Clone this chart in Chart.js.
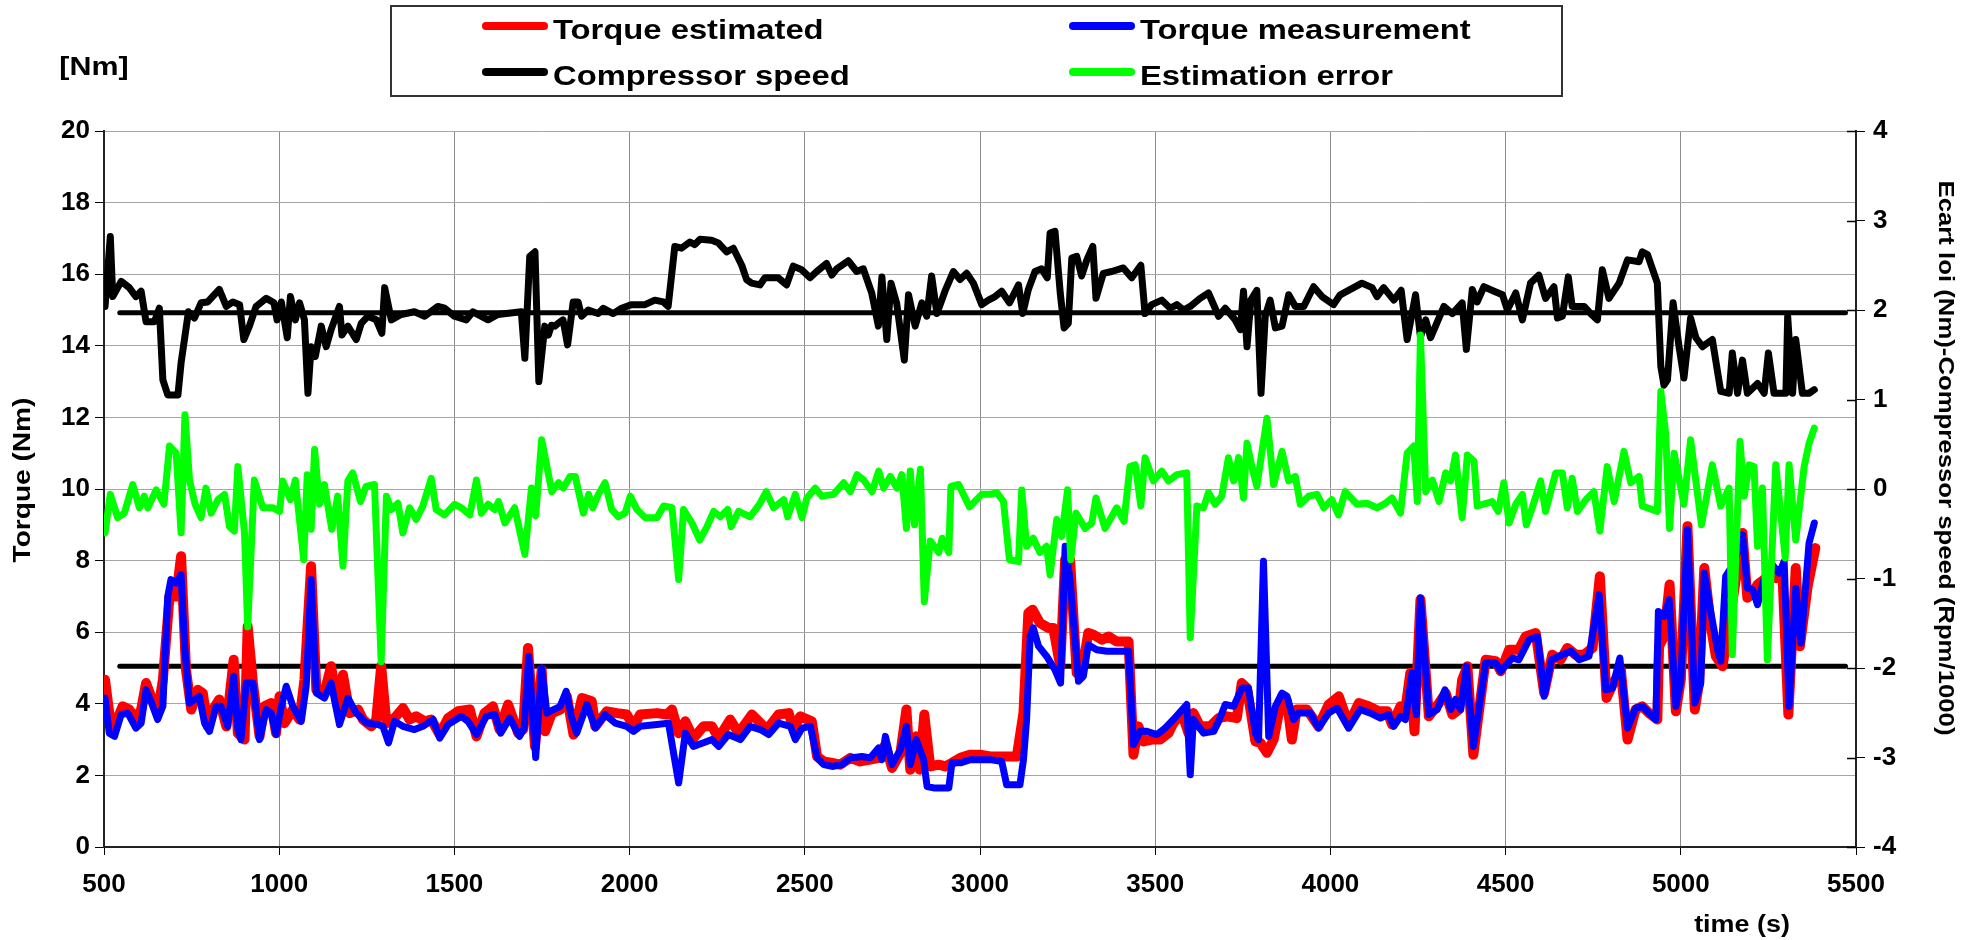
<!DOCTYPE html>
<html>
<head>
<meta charset="utf-8">
<title>Torque estimation vs measurement</title>
<script src="https://cdn.jsdelivr.net/npm/chart.js@4.4.1/dist/chart.umd.min.js"></script>
<style>
  html, body { margin: 0; padding: 0; background: #fff; }
  #wrap { position: relative; width: 1971px; height: 940px; }
  #legend {
    position: absolute; left: 390px; top: 5px; width: 1173px; height: 92px;
    border: 2px solid #333; box-sizing: border-box;
    font: bold 28px "Liberation Sans", Arial, sans-serif; color: #000;
  }
  .swatch { position: absolute; width: 66px; height: 8px; border-radius: 4px; }
  .label {
    position: absolute; white-space: nowrap; line-height: 1;
    transform: scaleX(1.17); transform-origin: left center;
  }
</style>
</head>
<body>
<div id="wrap">
  <canvas id="chart" width="1971" height="940"></canvas>
  <div id="legend"></div>
</div>
<script>
// Compressor speed (Rpm/1000), right axis
const speedTime = [503,518,525,549,572,591,606,620,644,658,668,682,711,720,741,758,777,796,829,849,868,887,899,915,934,963,985,994,1006,1023,1032,1046,1058,1072,1082,1091,1103,1120,1134,1148,1172,1179,1196,1220,1234,1253,1277,1293,1301,1320,1348,1386,1415,1453,1472,1500,1534,1553,1596,1624,1691,1701,1715,1730,1741,1758,1768,1777,1787,1796,1810,1823,1839,1853,1863,1882,1910,1925,1953,1977,2006,2044,2072,2096,2110,2129,2148,2172,2186,2201,2234,2253,2277,2296,2320,2334,2348,2372,2386,2424,2448,2467,2491,2515,2534,2562,2577,2591,2624,2648,2667,2691,2710,2720,2734,2746,2762,2784,2796,2815,2834,2848,2862,2877,2900,2924,2943,2962,2981,3005,3024,3043,3062,3084,3110,3122,3138,3157,3176,3192,3200,3214,3229,3240,3252,3262,3276,3290,3305,3322,3331,3352,3376,3409,3433,3459,3471,3490,3519,3543,3562,3581,3600,3628,3652,3681,3700,3728,3743,3752,3762,3773,3790,3802,3814,3828,3843,3862,3881,3900,3924,3952,3976,4009,4028,4057,4090,4119,4133,4152,4181,4202,4219,4243,4257,4272,4286,4300,4324,4348,4376,4388,4405,4419,4438,4467,4491,4505,4529,4548,4571,4595,4614,4638,4648,4662,4679,4690,4724,4743,4762,4776,4795,4824,4848,4881,4890,4905,4933,4943,4952,4962,4978,4995,5009,5028,5043,5062,5090,5114,5138,5147,5162,5176,5190,5219,5238,5250,5266,5300,5305,5319,5328,5347,5366,5381];
const speedVals = [2.04,2.82,2.15,2.32,2.25,2.15,2.21,1.87,1.87,2.02,1.22,1.05,1.05,1.41,1.98,1.91,2.08,2.09,2.23,2.04,2.09,2.06,1.67,1.82,2.04,2.13,2.08,1.89,2.09,1.69,2.15,1.89,2.08,1.89,1.07,1.59,1.48,1.82,1.59,1.78,2.04,1.72,1.82,1.67,1.85,1.93,1.89,1.74,2.25,1.89,1.95,1.98,1.93,2.04,2.02,1.93,1.89,1.98,1.89,1.95,1.98,1.46,2.60,2.65,1.20,1.82,1.72,1.83,1.82,1.85,1.89,1.61,2.09,2.09,1.93,2.00,1.96,2.02,1.96,2.02,2.06,2.06,2.11,2.09,2.04,2.71,2.69,2.76,2.73,2.79,2.78,2.75,2.65,2.69,2.50,2.34,2.30,2.28,2.36,2.36,2.28,2.49,2.45,2.36,2.43,2.52,2.39,2.46,2.55,2.43,2.46,2.19,1.82,2.37,1.67,2.30,2.08,1.44,2.17,1.82,2.08,1.93,2.38,1.96,2.21,2.43,2.34,2.41,2.30,2.06,2.11,2.15,2.21,2.08,2.28,1.96,2.23,2.43,2.46,2.36,2.86,2.88,2.19,1.80,1.85,2.58,2.60,2.38,2.56,2.71,2.13,2.41,2.43,2.47,2.36,2.50,1.96,2.06,2.11,2.02,2.06,2.00,2.04,2.13,2.19,1.93,2.02,1.89,1.78,2.21,1.59,2.11,2.22,1.07,1.93,2.11,1.80,1.82,2.17,2.04,2.04,2.26,2.15,2.06,2.17,2.23,2.30,2.25,2.15,2.25,2.11,2.22,1.67,2.17,1.70,1.89,1.69,1.82,2.04,1.96,2.08,1.56,2.23,2.09,2.26,2.21,2.17,2.00,2.19,1.89,2.30,2.39,2.13,2.26,1.91,1.93,2.37,2.04,2.04,1.96,1.89,2.45,2.13,2.30,2.56,2.54,2.65,2.62,2.30,1.37,1.16,1.22,2.08,1.59,1.24,1.91,1.69,1.59,1.67,1.09,1.07,1.52,1.07,1.44,1.07,1.18,1.07,1.52,1.07,1.07,1.93,1.07,1.67,1.07,1.07,1.11];

// Estimation error (Nm), right axis
const errTime = [503,518,539,558,582,601,615,625,649,671,687,706,720,731,744,760,777,791,806,825,844,858,872,882,901,910,929,953,982,1001,1010,1032,1046,1070,1080,1091,1101,1115,1129,1150,1167,1182,1196,1210,1232,1248,1272,1291,1306,1320,1339,1353,1372,1391,1410,1434,1448,1472,1501,1520,1544,1563,1577,1596,1615,1626,1644,1672,1701,1720,1732,1749,1778,1797,1811,1830,1845,1868,1883,1895,1911,1930,1949,1968,1987,2002,2021,2044,2078,2097,2121,2140,2154,2178,2200,2221,2240,2259,2280,2290,2311,2344,2371,2390,2411,2440,2451,2473,2492,2506,2530,2549,2582,2611,2630,2649,2668,2692,2711,2725,2744,2763,2777,2790,2801,2813,2830,2841,2858,2882,2892,2911,2917,2939,2970,3005,3029,3048,3067,3084,3110,3119,3133,3152,3171,3190,3200,3219,3233,3250,3259,3274,3300,3319,3331,3357,3390,3411,3428,3443,3459,3471,3495,3519,3538,3562,3590,3600,3619,3638,3652,3671,3690,3709,3724,3738,3752,3762,3776,3790,3819,3838,3862,3881,3900,3914,3938,3962,3981,4004,4023,4042,4076,4104,4133,4157,4176,4200,4219,4238,4248,4257,4272,4291,4310,4329,4343,4357,4376,4391,4410,4419,4462,4479,4495,4510,4529,4548,4559,4576,4600,4614,4643,4662,4676,4690,4705,4729,4752,4769,4790,4810,4838,4857,4881,4890,4933,4943,4957,4968,4981,5009,5028,5059,5090,5114,5138,5147,5169,5181,5195,5209,5219,5233,5247,5271,5298,5309,5328,5352,5366,5381];
const errVals = [-0.49,-0.06,-0.32,-0.27,0.05,-0.21,-0.08,-0.21,-0.01,-0.17,0.48,0.40,-0.49,0.83,0.10,-0.17,-0.32,0.01,-0.27,-0.12,-0.06,-0.42,-0.47,0.25,-0.49,-1.54,0.10,-0.21,-0.21,-0.25,0.09,-0.12,0.10,-0.79,0.16,-0.45,0.44,-0.17,0.05,-0.45,-0.08,-0.86,0.09,0.18,-0.14,0.03,0.05,-1.93,-0.08,-0.23,-0.16,-0.49,-0.21,-0.34,-0.19,0.12,-0.23,-0.29,-0.17,-0.21,-0.29,0.10,-0.27,-0.17,-0.23,-0.14,-0.38,-0.21,-0.73,0.01,-0.30,0.55,-0.03,0.07,0.01,0.14,0.14,-0.27,-0.06,-0.21,-0.06,0.07,-0.23,-0.31,-0.27,-0.08,-0.23,-0.32,-0.32,-0.19,-0.21,-1.01,-0.23,-0.38,-0.57,-0.42,-0.25,-0.31,-0.23,-0.42,-0.25,-0.31,-0.17,-0.03,-0.21,-0.12,-0.31,-0.06,-0.32,-0.10,0.01,-0.08,-0.06,0.07,-0.03,0.16,0.10,-0.03,0.20,0.01,0.14,0.01,0.16,-0.44,0.20,-0.40,0.22,-1.26,-0.58,-0.71,-0.55,-0.71,0.03,0.05,-0.20,-0.06,-0.06,-0.04,-0.14,-0.79,-0.81,-0.01,-0.64,-0.55,-0.71,-0.64,-0.96,-0.34,-0.53,-0.01,-0.79,-0.27,-0.44,-0.38,-0.10,-0.44,-0.21,-0.36,0.25,0.27,-0.19,0.35,0.09,0.20,0.09,0.16,0.18,-1.66,-0.19,-0.21,-0.04,-0.17,-0.08,0.35,0.09,0.35,-0.10,0.51,0.25,0.03,0.79,0.05,0.42,0.09,0.14,-0.17,-0.08,-0.06,-0.21,-0.12,-0.29,-0.03,-0.17,-0.16,-0.21,-0.16,-0.10,-0.27,0.40,0.48,-0.14,1.72,-0.03,0.10,-0.14,0.18,0.09,0.38,-0.32,0.38,0.31,-0.19,-0.14,-0.25,0.07,-0.38,-0.17,-0.06,-0.40,-0.21,0.09,-0.25,0.18,0.18,-0.21,0.12,-0.25,-0.12,-0.03,-0.47,0.25,-0.14,0.42,0.07,0.14,-0.19,-0.25,1.09,0.61,-0.44,0.40,-0.17,0.55,-0.40,0.27,-0.19,0.01,-1.85,0.53,-0.08,0.27,0.25,-0.64,0.01,-1.91,0.27,-0.77,0.27,-0.57,0.25,0.51,0.68];

// Torque estimated (Nm), left axis
const estTime = [503,515,530,553,572,591,606,620,634,653,668,687,706,720,734,749,768,782,796,811,829,849,870,882,901,910,925,944,958,977,991,1001,1015,1039,1058,1072,1091,1106,1129,1148,1167,1182,1201,1225,1239,1263,1277,1291,1306,1329,1353,1372,1391,1415,1434,1458,1482,1510,1544,1563,1586,1610,1629,1653,1682,1696,1710,1730,1749,1759,1778,1802,1821,1840,1864,1892,1902,1935,1964,1992,2011,2030,2078,2106,2121,2140,2159,2182,2211,2235,2254,2287,2311,2349,2392,2425,2454,2468,2487,2520,2535,2554,2578,2601,2630,2658,2687,2711,2730,2749,2773,2790,2801,2818,2828,2841,2858,2882,2901,2920,2944,2973,3000,3029,3062,3105,3124,3138,3150,3171,3195,3209,3229,3243,3257,3276,3295,3309,3324,3348,3367,3390,3424,3438,3452,3467,3490,3514,3538,3552,3576,3595,3609,3628,3657,3681,3705,3733,3747,3762,3786,3800,3819,3838,3862,3876,3890,3904,3933,3966,3995,4024,4052,4081,4109,4138,4162,4176,4200,4214,4228,4240,4257,4281,4310,4329,4348,4367,4376,4391,4408,4443,4472,4486,4510,4538,4557,4586,4610,4633,4657,4676,4700,4724,4748,4769,4788,4805,4829,4848,4871,4890,4909,4933,4938,4952,4968,4986,5000,5019,5040,5052,5067,5086,5100,5119,5138,5157,5176,5190,5205,5219,5238,5257,5271,5290,5307,5328,5340,5362,5384];
const estVals = [4.67,3.74,3.37,3.93,3.84,3.56,3.84,4.58,4.21,3.74,4.67,7.00,7.00,8.12,4.95,3.84,4.39,4.30,3.37,3.84,4.12,3.37,5.23,3.18,3.00,6.16,4.58,3.09,3.93,4.02,3.18,4.21,3.46,3.84,3.56,4.67,7.84,4.39,4.30,5.05,3.93,4.81,3.74,3.84,3.56,3.37,3.56,5.05,3.46,3.60,3.88,3.56,3.65,3.51,3.56,3.14,3.60,3.79,3.84,3.09,3.74,3.93,3.28,3.98,3.18,3.28,5.56,2.81,4.95,3.23,3.74,3.84,4.21,3.14,4.16,4.07,3.37,3.79,3.74,3.70,3.37,3.70,3.74,3.70,3.84,3.18,3.51,3.04,3.37,3.37,3.04,3.56,3.18,3.70,3.28,3.70,3.74,3.28,3.65,3.51,2.53,2.39,2.35,2.30,2.49,2.39,2.44,2.49,2.86,2.21,2.63,3.84,2.16,3.09,2.16,3.70,2.25,2.30,2.25,2.35,2.49,2.58,2.58,2.53,2.53,2.53,3.74,6.54,6.63,6.26,6.12,6.12,5.05,8.03,8.03,4.86,5.14,5.98,5.93,5.79,5.88,5.74,5.74,2.58,3.37,2.95,3.00,3.00,3.18,3.46,3.74,3.18,3.74,3.37,3.37,3.60,3.65,3.60,4.58,4.44,2.95,2.91,2.63,3.00,4.21,4.07,3.00,3.84,3.84,3.37,3.98,4.21,3.42,4.02,3.93,3.79,3.79,3.42,3.93,3.84,4.86,3.23,6.91,3.65,4.02,4.30,3.70,3.84,4.67,5.05,2.58,5.23,5.19,4.91,5.51,5.51,5.88,5.98,4.30,5.37,5.23,5.56,5.37,5.37,5.56,7.56,4.16,4.53,4.95,3.00,3.84,3.93,3.74,3.56,5.61,5.88,7.33,3.79,4.67,8.96,3.84,4.58,7.79,6.16,5.33,5.05,6.26,7.47,8.77,6.96,7.09,7.33,7.47,7.56,7.51,7.65,3.70,7.79,5.61,7.28,8.35];

// Torque measurement (Nm), left axis
const measTime = [503,515,530,549,568,591,606,620,634,653,668,682,691,706,720,730,744,772,787,801,820,834,853,870,882,891,906,925,944,963,977,991,1006,1020,1039,1063,1077,1091,1106,1129,1148,1172,1196,1220,1249,1282,1296,1312,1329,1353,1386,1410,1439,1458,1482,1520,1539,1563,1591,1615,1632,1658,1686,1699,1712,1732,1749,1764,1783,1802,1819,1835,1849,1878,1902,1930,1959,1992,2011,2030,2078,2111,2140,2159,2182,2211,2235,2254,2282,2316,2344,2373,2397,2425,2459,2473,2492,2516,2535,2554,2578,2606,2630,2663,2687,2711,2720,2730,2749,2773,2790,2801,2818,2839,2849,2868,2911,2920,2944,2973,3000,3029,3062,3076,3114,3124,3133,3143,3152,3167,3190,3214,3230,3243,3257,3281,3295,3309,3333,3362,3390,3424,3438,3457,3476,3505,3528,3552,3590,3600,3609,3638,3667,3681,3700,3724,3747,3766,3786,3795,3809,3824,3843,3862,3876,3895,3909,3943,3966,3995,4019,4052,4085,4114,4143,4166,4181,4200,4214,4233,4245,4257,4281,4305,4327,4343,4357,4372,4388,4408,4443,4472,4486,4519,4538,4567,4591,4610,4631,4662,4686,4710,4738,4767,4786,4805,4826,4848,4871,4890,4909,4929,4936,4952,4967,4986,5000,5019,5040,5057,5067,5086,5105,5114,5128,5152,5176,5190,5205,5219,5238,5257,5281,5295,5309,5328,5343,5366,5381];
const measVals = [4.16,3.18,3.09,3.70,3.74,3.32,3.46,4.39,4.07,3.56,3.93,7.00,7.47,7.37,7.61,5.61,4.02,4.21,3.46,3.23,3.93,3.93,3.37,4.77,3.28,3.00,4.58,4.58,3.00,3.84,3.74,3.14,3.93,4.49,3.93,3.51,4.49,7.47,4.30,4.16,4.58,3.42,4.16,3.74,3.46,3.42,3.37,2.91,3.51,3.37,3.28,3.37,3.56,3.04,3.42,3.65,3.51,3.14,3.65,3.70,3.18,3.60,3.09,3.32,5.33,2.50,5.00,3.74,3.84,3.93,4.35,3.60,3.18,3.98,3.32,3.70,3.46,3.37,3.23,3.37,3.42,3.46,1.79,3.18,2.81,2.91,3.00,2.81,3.14,3.00,3.37,3.28,3.14,3.46,3.37,3.00,3.32,3.37,2.49,2.30,2.25,2.30,2.49,2.53,2.49,2.77,2.44,3.09,2.30,2.72,3.37,2.30,3.00,2.44,1.69,1.65,1.65,2.35,2.35,2.44,2.44,2.44,2.39,1.74,1.74,2.44,3.56,5.88,6.12,5.61,5.33,4.95,4.58,8.40,7.47,4.63,4.77,5.65,5.51,5.47,5.47,5.47,2.86,3.23,3.23,3.14,3.32,3.56,3.98,2.02,3.56,3.18,3.23,3.51,3.98,3.93,4.44,4.44,3.18,3.00,7.98,3.09,3.93,4.30,4.21,3.56,3.74,3.74,3.32,3.74,3.88,3.32,3.84,3.74,3.60,3.70,3.37,3.65,3.56,4.86,3.70,6.96,3.70,3.84,4.39,3.84,4.12,3.84,5.05,2.81,5.14,5.14,4.91,5.28,5.23,5.79,5.88,4.21,5.23,5.37,5.47,5.23,5.33,7.05,4.39,4.44,5.28,3.32,3.88,3.93,3.74,3.56,6.58,6.44,6.91,3.93,4.67,8.86,4.02,4.58,7.65,6.54,5.51,5.19,7.56,7.93,8.72,7.23,7.19,6.77,7.51,7.93,7.65,7.98,3.93,7.23,5.70,8.49,9.05];

// Error limits (Nm), right axis
const limitTime = [545, 5470];
const upperLimit = [1.97, 1.97];
const lowerLimit = [-1.98, -1.98];

// Axis ranges and ticks
const xRange = [500, 5500, 500];
const leftRange = [0, 20, 2];
const rightRange = [-4, 4, 1];

const toPoints = (xs, ys) => xs.map((x, i) => ({ x: x, y: ys[i] }));

const FONT = '"Liberation Sans", Arial, sans-serif';
const tickFont = { family: FONT, size: 26, weight: 'bold' };

function lineSet(label, xs, ys, color, width, axis) {
    return {
        label: label,
        data: toPoints(xs, ys),
        borderColor: color,
        backgroundColor: color,
        borderWidth: width,
        pointRadius: 0,
        tension: 0,
        fill: false,
        borderJoinStyle: 'round',
        borderCapStyle: 'round',
        yAxisID: axis
    };
}

// first dataset is drawn on top
const datasets = [
    lineSet('Estimation error', errTime, errVals, '#00ff00', 7, 'y1'),
    lineSet('Compressor speed', speedTime, speedVals, '#000000', 7, 'y1'),
    lineSet('Torque measurement', measTime, measVals, '#0000ff', 7, 'y'),
    lineSet('Torque estimated', estTime, estVals, '#ff0000', 10, 'y'),
    lineSet('upper limit', limitTime, upperLimit, '#000000', 5, 'y1'),
    lineSet('lower limit', limitTime, lowerLimit, '#000000', 5, 'y1')
];

function drawStretched(ctx, text, x, y, angle, size) {
    ctx.save();
    ctx.translate(x, y);
    ctx.rotate(angle);
    ctx.scale(1.17, 1);
    ctx.font = 'bold ' + size + 'px ' + FONT;
    ctx.fillText(text, 0, 0);
    ctx.restore();
}

const axisText = {
    id: 'axisText',
    afterDraw(chart) {
        const { ctx, chartArea, scales } = chart;
        ctx.save();
        ctx.fillStyle = '#000';
        ctx.textAlign = 'center';
        ctx.textBaseline = 'middle';
        drawStretched(ctx, '[Nm]', 94, 68, 0, 26);
        drawStretched(ctx, 'Torque (Nm)', 23, 480, -Math.PI / 2, 24);
        drawStretched(ctx, 'Ecart loi (Nm)-Compressor speed (Rpm/1000)', 1945, 458, Math.PI / 2, 22);
        drawStretched(ctx, 'time (s)', 1742, 926, 0, 23);

        // right axis ticks cross the axis line
        ctx.strokeStyle = '#000';
        ctx.lineWidth = 1.5;
        scales.y1.ticks.forEach(t => {
            const py = Math.round(scales.y1.getPixelForValue(t.value)) + 0.5;
            ctx.beginPath();
            ctx.moveTo(chartArea.right - 9, py);
            ctx.lineTo(chartArea.right, py);
            ctx.stroke();
        });
        ctx.restore();
    }
};

const chart = new Chart(document.getElementById('chart'), {
    type: 'line',
    data: { datasets: datasets },
    plugins: [axisText],
    options: {
        responsive: false,
        animation: false,
        devicePixelRatio: 1,
        layout: { padding: { top: 131, left: 0, right: 0, bottom: 0 } },
        plugins: {
            legend: { display: false },
            tooltip: { enabled: false }
        },
        scales: {
            x: {
                type: 'linear',
                min: xRange[0], max: xRange[1],
                afterFit: s => { s.height = 93; },
                ticks: { stepSize: xRange[2], font: tickFont, color: '#000', padding: 14, maxRotation: 0, callback: v => String(v) },
                grid: { color: '#8c8c8c', lineWidth: 1, tickColor: '#000', tickLength: 8 },
                border: { color: '#222', width: 2 }
            },
            y: {
                position: 'left',
                min: leftRange[0], max: leftRange[1],
                afterFit: s => { s.width = 104; },
                ticks: { stepSize: leftRange[2], font: tickFont, color: '#000', padding: 5, callback: v => String(v) },
                grid: { color: '#a6a6a6', lineWidth: 1, tickColor: '#000', tickLength: 9 },
                border: { color: '#222', width: 2 }
            },
            y1: {
                position: 'right',
                min: rightRange[0], max: rightRange[1],
                afterFit: s => { s.width = 115; },
                ticks: { stepSize: rightRange[2], font: tickFont, color: '#000', padding: 8, callback: v => String(v) },
                grid: { drawOnChartArea: false, tickColor: '#000', tickLength: 9 },
                border: { color: '#222', width: 2 }
            }
        }
    }
});

// HTML legend built from the chart's datasets
const legendSlots = [
    { label: 'Torque estimated', left: 90, top: 15 },
    { label: 'Torque measurement', left: 677, top: 15 },
    { label: 'Compressor speed', left: 90, top: 61 },
    { label: 'Estimation error', left: 677, top: 61 }
];
const legendBox = document.getElementById('legend');
legendSlots.forEach(slot => {
    const ds = chart.data.datasets.find(d => d.label === slot.label);
    const sw = document.createElement('div');
    sw.className = 'swatch';
    sw.style.left = slot.left + 'px';
    sw.style.top = slot.top + 'px';
    sw.style.background = ds.borderColor;
    legendBox.appendChild(sw);
    const tx = document.createElement('span');
    tx.className = 'label';
    tx.style.left = (slot.left + 71) + 'px';
    tx.style.top = (slot.top - 6) + 'px';
    tx.textContent = ds.label;
    legendBox.appendChild(tx);
});
</script>
</body>
</html>
